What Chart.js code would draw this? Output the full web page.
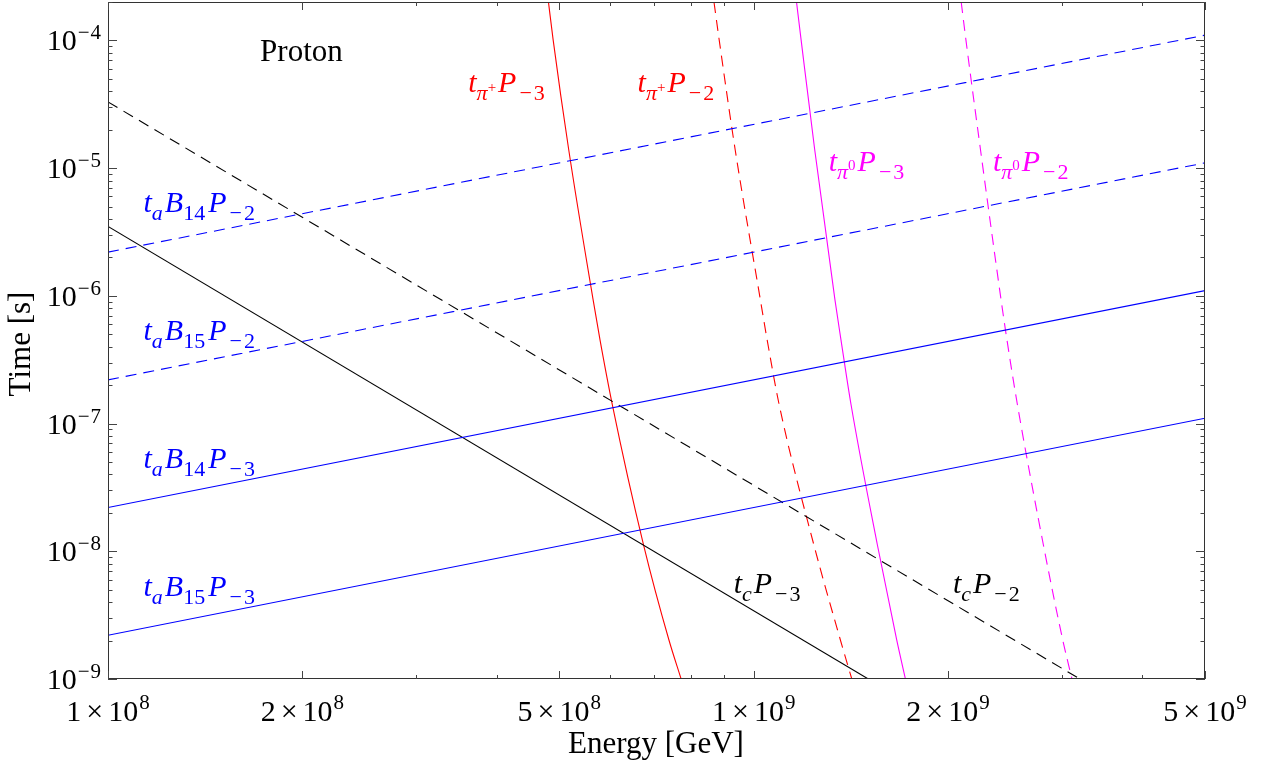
<!DOCTYPE html>
<html>
<head>
<meta charset="utf-8">
<script src="https://cdn.jsdelivr.net/npm/chart.js@4.4.1/dist/chart.umd.min.js"></script>
<style>
  html, body { margin: 0; padding: 0; background: #fff; }
  canvas { display: block; }
</style>
</head>
<body>
<canvas id="c" width="1270" height="776"></canvas>
<script>
// straight power laws (log-log): end points
const eSpan = [1e8, 5e9];
const tB14P2 = [2.2e-6, 1.1e-4];
const tB15P2 = [2.2e-7, 1.1e-5];
const tB14P3 = [2.2e-8, 1.1e-6];
const tB15P3 = [2.2e-9, 1.1e-7];

const eC3 = [1e8, 1.505e9];
const tC3 = [3.5e-6, 1e-9];
const eC2 = [1e8, 3.2e9];
const tC2 = [3.3e-5, 1e-9];

// pion curves: energy read at these time levels
const tLevels = [2e-4, 1.02e-4, 1.4e-5, 9.35e-7, 4.55e-7, 1.41e-7, 1.13e-8, 2.03e-9, 1e-9];
const ePipP3 = [4.81e8, 4.89e8, 5.17e8, 5.64e8, 5.78e8, 6.04e8, 6.75e8, 7.39e8, 7.72e8];
const ePipP2 = [8.68e8, 8.84e8, 9.36e8, 1.024e9, 1.049e9, 1.095e9, 1.239e9, 1.362e9, 1.419e9];
const ePi0P3 = [1.165e9, 1.184e9, 1.243e9, 1.336e9, 1.365e9, 1.415e9, 1.554e9, 1.665e9, 1.718e9];
const ePi0P2 = [2.096e9, 2.131e9, 2.245e9, 2.416e9, 2.467e9, 2.561e9, 2.809e9, 3.010e9, 3.111e9];

// axis ticks
const xMajor = [1e8, 2e8, 5e8, 1e9, 2e9, 5e9];
const xMajorMant = ['1', '2', '5', '1', '2', '5'];
const xMajorExp = ['8', '8', '8', '9', '9', '9'];
const xMinor = [3e8, 4e8, 6e8, 7e8, 8e8, 9e8, 3e9, 4e9];
const yExp = [-9, -8, -7, -6, -5, -4];
const yMinorMant = [2, 3, 4, 5, 6, 7, 8, 9];

const BLUE = '#0000ff', RED = '#ff0000', MAG = '#ff00ff', BLK = '#000000';
const FONT = '"Liberation Serif", "Times New Roman", serif';

function pts(xs, ys) {
  return xs.map((v, i) => ({ x: v, y: ys[i] }));
}
function line(xs, ys, color, dashed) {
  return {
    data: pts(xs, ys),
    borderColor: color,
    borderWidth: 1.1,
    borderDash: dashed ? [11, 7] : [],
    pointRadius: 0,
    fill: false,
    cubicInterpolationMode: 'monotone'
  };
}

const datasets = [
  line(eSpan, tB14P2, BLUE, true),
  line(eSpan, tB15P2, BLUE, true),
  line(eSpan, tB14P3, BLUE, false),
  line(eSpan, tB15P3, BLUE, false),
  line(eC3, tC3, BLK, false),
  line(eC2, tC2, BLK, true),
  line(ePipP3, tLevels, RED, false),
  line(ePipP2, tLevels, RED, true),
  line(ePi0P3, tLevels, MAG, false),
  line(ePi0P2, tLevels, MAG, true)
];

// rich text parts: [text, size, dy, italic, extra gap after]
const it = (s, g) => [s, 30, 0, true, g || 0];
const sb = (s, italic, g) => [s, 22, 8, !!italic, g || 0];
const tiny = (s, dy, g) => [s, 15, dy, false, g || 0];
const minus = (d) => [['\u2212', 22, 8, false, 2], [d, 22, 8, false, 0]];

const curveLabels = [
  { e: 1.72e8, t: 6.85e-5, color: BLK, parts: [['Proton', 31, 0, false, 0]] },
  { e: 1.135e8, t: 4.5e-6, color: BLUE, parts: [it('t'), sb('a', true, 2), it('B'), sb('14', false, 3), it('P', 3), ...minus('2')] },
  { e: 1.135e8, t: 4.5e-7, color: BLUE, parts: [it('t'), sb('a', true, 2), it('B'), sb('15', false, 3), it('P', 3), ...minus('2')] },
  { e: 1.135e8, t: 4.5e-8, color: BLUE, parts: [it('t'), sb('a', true, 2), it('B'), sb('14', false, 3), it('P', 3), ...minus('3')] },
  { e: 1.135e8, t: 4.5e-9, color: BLUE, parts: [it('t'), sb('a', true, 2), it('B'), sb('15', false, 3), it('P', 3), ...minus('3')] },
  { e: 3.614e8, t: 3.92e-5, color: RED, parts: [it('t'), sb('\u03c0', true), tiny('+', 0, 2), it('P', 3), ...minus('3')] },
  { e: 6.61e8, t: 3.92e-5, color: RED, parts: [it('t'), sb('\u03c0', true), tiny('+', 0, 2), it('P', 3), ...minus('2')] },
  { e: 1.307e9, t: 9.42e-6, color: MAG, parts: [it('t'), sb('\u03c0', true), tiny('0', -1, 2), it('P', 3), ...minus('3')] },
  { e: 2.347e9, t: 9.42e-6, color: MAG, parts: [it('t'), sb('\u03c0', true), tiny('0', -1, 2), it('P', 3), ...minus('2')] },
  { e: 9.31e8, t: 4.74e-9, color: BLK, parts: [it('t'), sb('c', true, 2), it('P', 3), ...minus('3')] },
  { e: 2.035e9, t: 4.74e-9, color: BLK, parts: [it('t'), sb('c', true, 2), it('P', 3), ...minus('2')] }
];

function setFont(ctx, p) {
  ctx.font = (p[3] ? 'italic ' : '') + p[1] + 'px ' + FONT;
}
function rich(ctx, parts, x, y, align) {
  let w = 0;
  parts.forEach(p => { setFont(ctx, p); w += ctx.measureText(p[0]).width + p[4]; });
  let cx = align === 'right' ? x - w : align === 'center' ? x - w / 2 : x;
  ctx.textAlign = 'left';
  ctx.textBaseline = 'alphabetic';
  parts.forEach(p => {
    setFont(ctx, p);
    ctx.fillText(p[0], cx, y + p[2]);
    cx += ctx.measureText(p[0]).width + p[4];
  });
}

const framePlugin = {
  id: 'frame',
  afterDraw(chart) {
    const { ctx, chartArea: a, scales: { x, y } } = chart;
    ctx.save();
    ctx.strokeStyle = '#333';
    ctx.lineWidth = 1;
    ctx.strokeRect(a.left + 0.5, a.top + 0.5, a.width - 1, a.height - 1);

    // ticks on all four sides, pointing inward
    const xTick = (v, len) => {
      const px = Math.round(x.getPixelForValue(v)) + 0.5;
      ctx.beginPath();
      ctx.moveTo(px, a.bottom); ctx.lineTo(px, a.bottom - len);
      ctx.moveTo(px, a.top); ctx.lineTo(px, a.top + len);
      ctx.stroke();
    };
    const yTick = (v, len) => {
      const py = Math.round(y.getPixelForValue(v)) + 0.5;
      ctx.beginPath();
      ctx.moveTo(a.left, py); ctx.lineTo(a.left + len, py);
      ctx.moveTo(a.right, py); ctx.lineTo(a.right - len, py);
      ctx.stroke();
    };
    ctx.strokeStyle = '#444';
    xMajor.forEach(v => xTick(v, 8));
    xMinor.forEach(v => xTick(v, 4));
    yExp.forEach(ex => {
      yTick(Math.pow(10, ex), 9);
      yMinorMant.forEach(m => {
        const v = m * Math.pow(10, ex);
        if (v <= y.max) yTick(v, 4.5);
      });
    });

    // tick labels
    ctx.fillStyle = '#000';
    xMajor.forEach((v, i) => {
      const px = x.getPixelForValue(v);
      rich(ctx, [
        [xMajorMant[i], 30, 0, false, 5],
        ['\u00d7', 30, 0, false, 5],
        ['10', 30, 0, false, 1],
        [xMajorExp[i], 21, -12, false, 0]
      ], px, 721, 'center');
    });
    yExp.forEach(ex => {
      const py = y.getPixelForValue(Math.pow(10, ex));
      rich(ctx, [
        ['10', 30, 0, false, 1],
        ['\u2212', 21, -11, false, 1],
        [String(Math.abs(ex)), 21, -11, false, 0]
      ], 101, py + 10, 'right');
    });

    // axis titles
    ctx.font = '31px ' + FONT;
    ctx.textAlign = 'center';
    ctx.textBaseline = 'middle';
    ctx.fillText('Energy [GeV]', 656, 745);
    ctx.save();
    ctx.translate(22, 344);
    ctx.rotate(-Math.PI / 2);
    ctx.fillText('Time [s]', 0, 0);
    ctx.restore();

    // curve labels, anchored in data coordinates
    curveLabels.forEach(l => {
      ctx.fillStyle = l.color;
      rich(ctx, l.parts, x.getPixelForValue(l.e), y.getPixelForValue(l.t), 'left');
    });
    ctx.restore();
  }
};

new Chart(document.getElementById('c'), {
  type: 'line',
  data: { datasets },
  options: {
    responsive: false,
    animation: false,
    events: [],
    layout: { padding: { left: 108, right: 65, top: 2, bottom: 97 } },
    plugins: { legend: { display: false }, tooltip: { enabled: false } },
    scales: {
      x: { type: 'logarithmic', min: 1e8, max: 5e9, display: false },
      y: { type: 'logarithmic', min: 1e-9, max: 2e-4, display: false }
    }
  },
  plugins: [framePlugin]
});
</script>
</body>
</html>
